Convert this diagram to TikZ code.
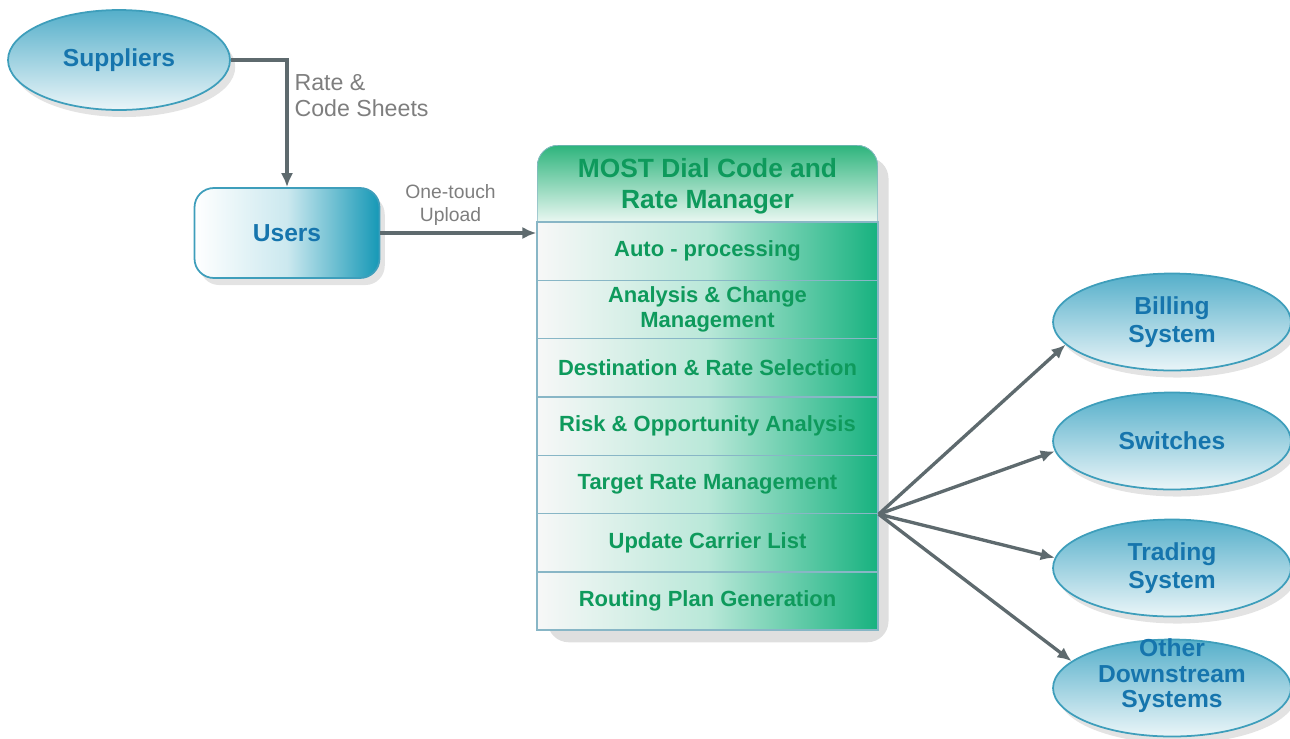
\documentclass[tikz,border=0pt]{standalone}
\usepackage{fontspec}
\setmainfont{Liberation Sans}
\usetikzlibrary{positioning, shapes.geometric, shadows, arrows.meta}
\definecolor{skyedge}{HTML}{3E9EBB}
\definecolor{skytop}{HTML}{55AFCA}
\definecolor{skylow}{HTML}{EAF5F8}
\definecolor{inkblue}{HTML}{1675AD}
\definecolor{usrteal}{HTML}{1598B6}
\definecolor{mgreen}{HTML}{0E9A5C}
\definecolor{hdgreen}{HTML}{2DB47C}
\definecolor{rowgreen}{HTML}{17B27F}
\definecolor{rowline}{HTML}{88B6C6}
\definecolor{wire}{HTML}{5E6A6E}
\definecolor{lblgray}{HTML}{7E7E7E}
\tikzset{softshadow/.style={drop shadow={shadow xshift=3pt, shadow yshift=-4pt, opacity=0.22}}}
\tikzset{sys/.style={ellipse, draw=skyedge, line width=1pt, top color=skytop, bottom color=skylow, minimum width=4.76cm, minimum height=1.94cm, inner sep=0pt, softshadow}}
\tikzset{systxt/.style={text=inkblue, font=\fontsize{14}{16}\selectfont\bfseries, align=center}}
\tikzset{userbox/.style={draw=skyedge, line width=1pt, rounded corners=11pt, left color=white, right color=usrteal, middle color=usrteal!22!white, minimum width=3.7cm, minimum height=1.8cm, text=inkblue, font=\fontsize{14}{16}\selectfont\bfseries, softshadow}}
\tikzset{rowbox/.style={draw=rowline, line width=0.8pt, left color=gray!6, right color=rowgreen, middle color=rowgreen!30!white, minimum width=6.82cm, minimum height=1.166cm, inner sep=0pt, text=mgreen, font=\fontsize{12.5}{14.2}\selectfont\bfseries, align=center}}
\tikzset{flow/.style={draw=wire, -{Latex[length=8pt, width=7pt]}, line width=1.9pt}}
\tikzset{flowlbl/.style={text=lblgray, align=left}}

\begin{document}
\begin{tikzpicture}[x=0.02cm, y=-0.02cm]
\useasboundingbox (0,0) rectangle (1290,738);
% sources
\node[sys, minimum width=4.44cm, minimum height=2cm, label={[systxt]center:Suppliers}] (sup) at (119,60) {};
\node[userbox] (users) at (287,233) {Users};
% manager box
\node[fill=white, rounded corners=12pt, minimum width=6.82cm, minimum height=9.7cm, drop shadow={shadow xshift=6pt, shadow yshift=-7pt, opacity=0.25}] (most) at (707.5,387.5) {};
\begin{scope}
  \clip[rounded corners=12pt] (537,145) rectangle (878,300);
  \shade[top color=hdgreen, bottom color=white!90!hdgreen] (537,145) rectangle (878,222);
  \draw[rowline, line width=0.8pt, rounded corners=12pt] (537,145) rectangle (878,300);
\end{scope}
\node[text=mgreen, font=\fontsize{15}{17.6}\selectfont\bfseries, align=center] (title) at (707.5,186) {MOST Dial Code and\\Rate Manager};
\foreach \i/\txt in {1/{Auto - processing}, 2/{Analysis \& Change\\Management}, 3/{Destination \& Rate Selection}, 4/{Risk \& Opportunity Analysis}, 5/{Target Rate Management}, 6/{Update Carrier List}, 7/{Routing Plan Generation}}
  \node[rowbox] (r\i) at (707.5, {222+58.3*(\i-0.5)}) {\txt};
\coordinate (fan) at (r5.south east);
% downstream
\node[sys, label={[systxt]center:Billing\\System}] (bill) at (1172,322) {};
\node[sys, label={[systxt]center:Switches}] (swit) at (1172,441) {};
\node[sys, label={[systxt]center:Trading\\System}] (trad) at (1172,568) {};
\node[sys, label={[systxt, yshift=7pt, font=\fontsize{14}{14.5}\selectfont\bfseries]center:Other\\Downstream\\Systems}] (oth) at (1172,688) {};
% connectors
\draw[flow] (sup.east) -| node[flowlbl, right, pos=0.64, font=\fontsize{13.2}{14.7}\selectfont]{Rate \&\\Code Sheets} (users.north);
\draw[flow] (users.east) -- node[flowlbl, above, pos=0.45, align=center, font=\fontsize{11}{13}\selectfont]{One-touch\\Upload} (users.east -| r1.west);
\foreach \n/\a in {bill/192, swit/185, trad/175, oth/165}
  \draw[flow] (fan) -- (\n.\a);
\end{tikzpicture}
\end{document}
